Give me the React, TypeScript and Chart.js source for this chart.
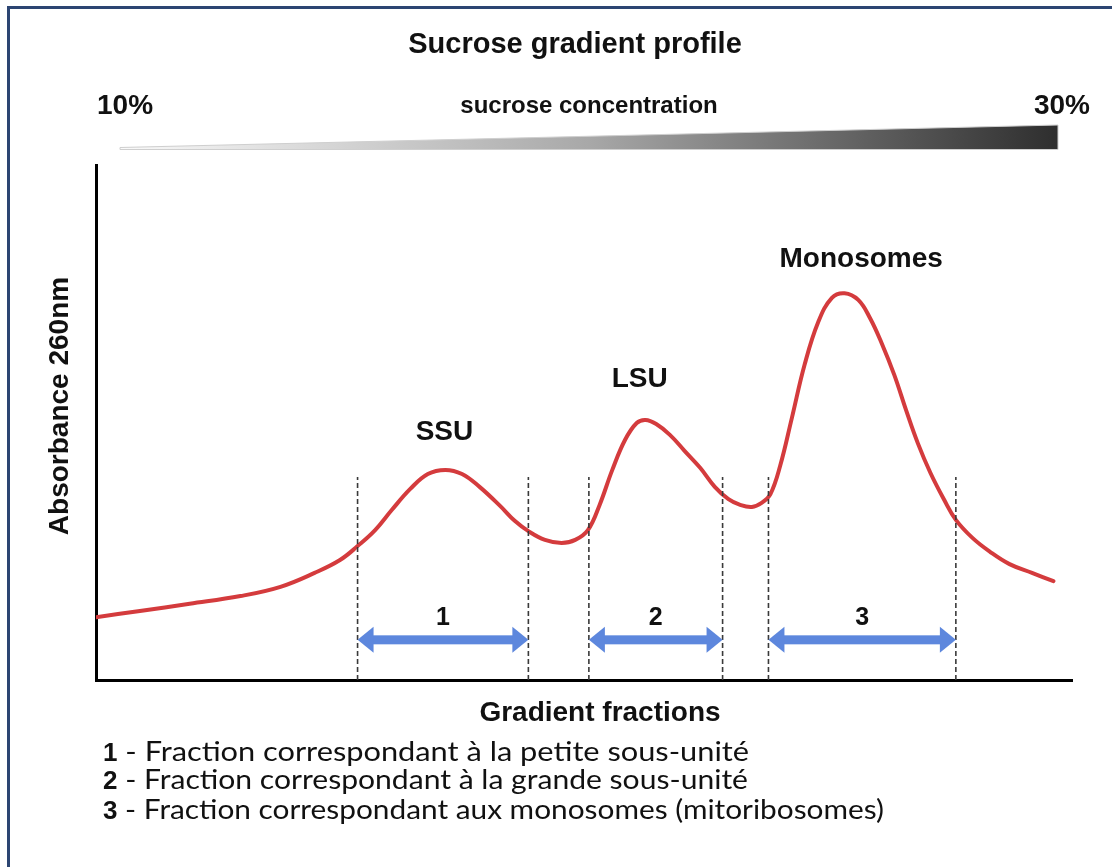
import React, { useEffect, useRef } from 'react';
import { Chart, registerables } from 'chart.js';

Chart.register(...registerables);

// ---- Data ----
const fractionX = [
  0.0, 4.5, 9.6, 14.8, 18.9, 22.4, 25.0, 26.8, 28.6, 30.3, 32.2, 34.0, 35.8, 37.5, 39.3,
  41.4, 42.9, 44.3, 46.0, 47.7, 49.1, 50.4, 51.6, 52.9, 54.2, 55.4, 56.3, 57.4, 58.8,
  60.3, 61.9, 63.4, 64.8, 66.0, 67.2, 68.2, 69.1, 70.1, 71.3, 72.6, 74.0, 75.4, 76.7,
  78.1, 79.3, 80.5, 81.8, 83.0, 84.2, 85.5, 86.9, 88.1, 89.8, 91.6, 93.6, 95.9, 98.1,
];
const absorbance = [
  12.2, 13.4, 14.8, 16.3, 18.1, 20.8, 23.3, 26.0, 29.1, 33.0, 37.1, 40.0, 40.8, 40.0, 37.5,
  33.8, 30.9, 28.9, 27.2, 26.6, 27.2, 29.1, 34.0, 40.8, 46.6, 49.9, 50.5, 49.7, 47.6,
  44.5, 41.2, 37.5, 35.1, 34.0, 33.6, 34.4, 36.1, 41.6, 50.9, 61.2, 69.5, 74.2, 75.1,
  73.8, 70.3, 65.4, 59.2, 52.4, 46.0, 40.2, 35.0, 31.1, 27.6, 24.9, 22.5, 20.8, 19.2,
];
const cutPositions = [26.8, 44.3, 50.5, 64.2, 68.9, 88.1];
const cutTop = 39.4;
const rangeStart = [26.8, 50.5, 68.9];
const rangeEnd = [44.3, 64.2, 88.1];
const rangeLabels = ['1', '2', '3'];
const arrowLevel = 7.8;
const rangeLabelLevel = 10.7;
const peakNames = ['SSU', 'LSU', 'Monosomes'];
const peakNameX = [35.7, 55.7, 78.4];
const peakNameY = [46.6, 56.9, 80.2];
const legendNumbers = ['1', '2', '3'];
const legendTexts = [
  ' - Fraction correspondant à la petite sous-unité',
  ' - Fraction correspondant à la grande sous-unité',
  ' - Fraction correspondant aux monosomes (mitoribosomes)',
];

const BOLD = '"Liberation Sans", Arial, Helvetica, sans-serif';
const BODY = 'Lato, "Open Sans", sans-serif';

function drawText(
  ctx: CanvasRenderingContext2D,
  s: string,
  x: number,
  y: number,
  font: string,
  align: CanvasTextAlign = 'center',
  fitWidth?: number,
) {
  ctx.save();
  ctx.font = font;
  ctx.fillStyle = '#111';
  ctx.textBaseline = 'alphabetic';
  ctx.textAlign = align;
  ctx.translate(x, y);
  if (fitWidth) {
    const w = ctx.measureText(s).width;
    const sx = Math.max(0.8, Math.min(1.2, fitWidth / w));
    ctx.scale(sx, 1);
  }
  ctx.fillText(s, 0, 0);
  ctx.restore();
}

const decorPlugin = {
  id: 'decor',
  beforeDraw(chart: any) {
    const ctx: CanvasRenderingContext2D = chart.ctx;
    ctx.save();
    ctx.fillStyle = '#ffffff';
    ctx.fillRect(0, 0, chart.width, chart.height);
    // frame
    ctx.strokeStyle = '#2c4572';
    ctx.lineWidth = 3;
    ctx.strokeRect(8.5, 7.5, 1130, 900);

    // titles
    drawText(ctx, 'Sucrose gradient profile', 575, 53, `bold 29px ${BOLD}`);
    drawText(ctx, '10%', 97, 114, `bold 28px ${BOLD}`, 'left');
    drawText(ctx, '30%', 1090, 114, `bold 28px ${BOLD}`, 'right');
    drawText(ctx, 'sucrose concentration', 589, 113, `bold 24px ${BOLD}`);

    // gradient wedge
    const g = ctx.createLinearGradient(120, 0, 1058, 0);
    g.addColorStop(0, '#fafafa');
    g.addColorStop(0.5, '#a8a8a8');
    g.addColorStop(1, '#2e2e2e');
    ctx.beginPath();
    ctx.moveTo(120, 147.5);
    ctx.lineTo(1058, 125);
    ctx.lineTo(1058, 149.5);
    ctx.lineTo(120, 149.5);
    ctx.closePath();
    ctx.fillStyle = g;
    ctx.fill();
    ctx.strokeStyle = '#cfcfcf';
    ctx.lineWidth = 1;
    ctx.stroke();

    // axis titles
    drawText(ctx, 'Gradient fractions', 600, 721, `bold 28px ${BOLD}`);
    ctx.save();
    ctx.translate(68, 406);
    ctx.rotate(-Math.PI / 2);
    drawText(ctx, 'Absorbance 260nm', 0, 0, `bold 28px ${BOLD}`);
    ctx.restore();

    // legend lines
    const baselines = [761, 789, 819];
    const ends = [749, 748, 884];
    legendNumbers.forEach((n, i) => {
      drawText(ctx, n, 103, baselines[i], `bold 26px ${BOLD}`, 'left');
      ctx.font = `bold 26px ${BOLD}`;
      const nw = ctx.measureText(n).width;
      const start = 103 + nw;
      drawText(ctx, legendTexts[i], start, baselines[i], `26px ${BODY}`, 'left', ends[i] - start);
    });
    ctx.restore();
  },
  afterDatasetsDraw(chart: any) {
    const ctx: CanvasRenderingContext2D = chart.ctx;
    const xs = chart.scales.x;
    const ys = chart.scales.y;
    ctx.save();
    // double arrows
    rangeStart.forEach((s, i) => {
      const x1 = xs.getPixelForValue(s);
      const x2 = xs.getPixelForValue(rangeEnd[i]);
      const y = ys.getPixelForValue(arrowLevel);
      const hl = 16;
      const hw = 13;
      ctx.fillStyle = '#5d87dd';
      ctx.fillRect(x1 + hl - 2, y - 4.5, x2 - x1 - 2 * hl + 4, 9);
      ctx.beginPath();
      ctx.moveTo(x1, y);
      ctx.lineTo(x1 + hl, y - hw);
      ctx.lineTo(x1 + hl, y + hw);
      ctx.closePath();
      ctx.fill();
      ctx.beginPath();
      ctx.moveTo(x2, y);
      ctx.lineTo(x2 - hl, y - hw);
      ctx.lineTo(x2 - hl, y + hw);
      ctx.closePath();
      ctx.fill();
      const ly = ys.getPixelForValue(rangeLabelLevel);
      drawText(ctx, rangeLabels[i], (x1 + x2) / 2, ly, `bold 25px ${BOLD}`);
    });
    // peak names
    peakNames.forEach((n, i) => {
      drawText(
        ctx,
        n,
        xs.getPixelForValue(peakNameX[i]),
        ys.getPixelForValue(peakNameY[i]),
        `bold 28px ${BOLD}`,
      );
    });
    ctx.restore();
  },
};

export default function App() {
  const ref = useRef<HTMLCanvasElement>(null);
  useEffect(() => {
    if (!ref.current) return;
    const curve = fractionX.map((x, i) => ({ x, y: absorbance[i] }));
    const cuts = cutPositions.map((c) => ({
      type: 'line' as const,
      data: [
        { x: c, y: 0 },
        { x: c, y: cutTop },
      ],
      borderColor: '#3a3a3a',
      borderWidth: 1.6,
      borderDash: [5, 3],
      pointRadius: 0,
      order: 0,
    }));
    const chart = new Chart(ref.current, {
      type: 'line',
      data: {
        datasets: [
          {
            data: curve,
            borderColor: '#d43b3d',
            borderWidth: 4,
            pointRadius: 0,
            tension: 0.4,
            borderCapStyle: 'round',
            borderJoinStyle: 'round',
            order: 1,
          },
          ...cuts,
        ],
      },
      options: {
        animation: false,
        responsive: false,
        devicePixelRatio: 1,
        layout: { padding: { left: 96, right: 40, top: 165, bottom: 187 } },
        plugins: { legend: { display: false }, tooltip: { enabled: false }, title: { display: false } },
        scales: {
          x: {
            type: 'linear',
            min: 0,
            max: 100,
            grid: { display: false, drawTicks: false },
            ticks: { display: false },
            border: { display: true, color: '#000', width: 3 },
          },
          y: {
            type: 'linear',
            min: 0,
            max: 100,
            grid: { display: false, drawTicks: false },
            ticks: { display: false },
            border: { display: true, color: '#000', width: 3 },
          },
        },
      },
      plugins: [decorPlugin],
    } as any);
    return () => chart.destroy();
  }, []);
  return (
    <div style={{ position: 'absolute', left: 0, top: 0, width: 1112, height: 867, background: '#fff' }}>
      <canvas ref={ref} width={1112} height={867} style={{ display: 'block', width: 1112, height: 867 }} />
    </div>
  );
}
